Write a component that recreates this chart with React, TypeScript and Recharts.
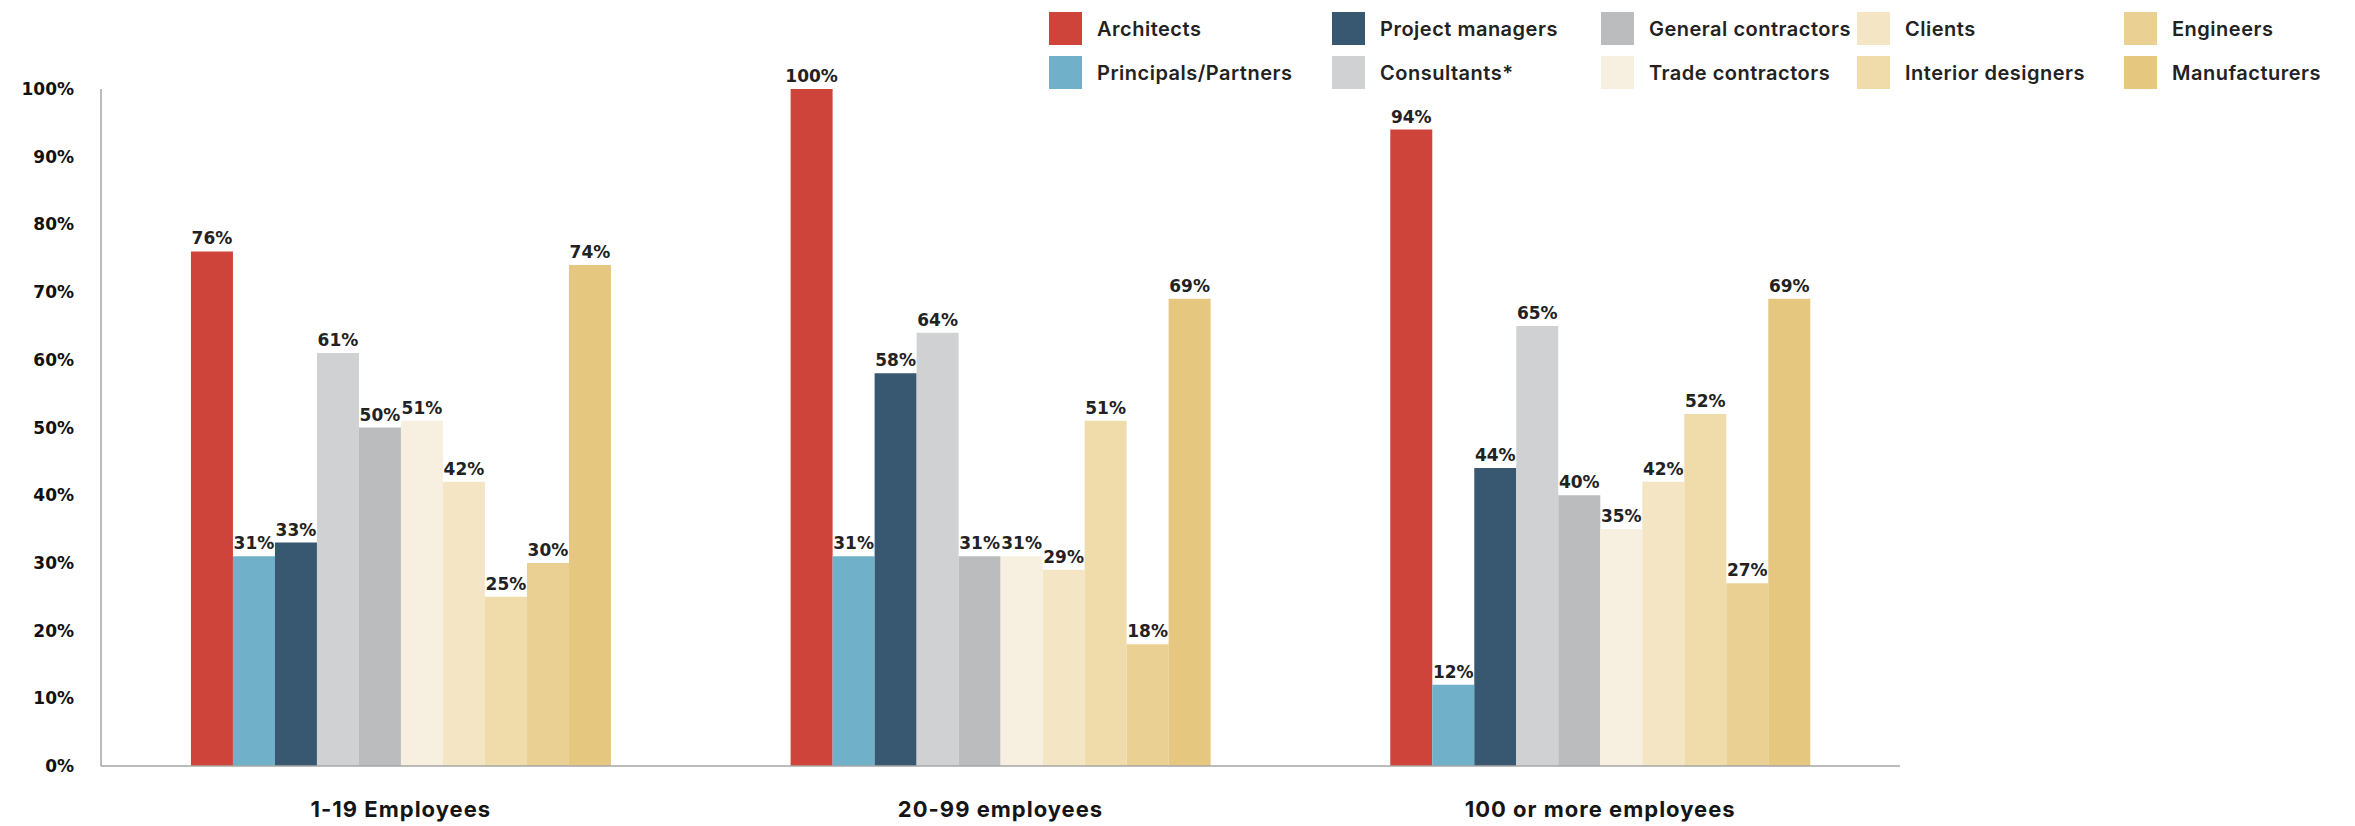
import React from "react";
import { BarChart, Bar, XAxis, YAxis, LabelList } from "recharts";

const categories = ["1-19 Employees", "20-99 employees", "100 or more employees"];
const seriesNames = [
  "Architects",
  "Principals/Partners",
  "Project managers",
  "Consultants*",
  "General contractors",
  "Trade contractors",
  "Clients",
  "Interior designers",
  "Engineers",
  "Manufacturers",
];
const seriesColors = [
  "#CF443A",
  "#71B0C9",
  "#385771",
  "#D0D1D3",
  "#BBBCBE",
  "#F7F0E0",
  "#F4E6C5",
  "#F0DBAB",
  "#EBD093",
  "#E5C77F",
];
const small = [76, 31, 33, 61, 50, 51, 42, 25, 30, 74];
const medium = [100, 31, 58, 64, 31, 31, 29, 51, 18, 69];
const large = [94, 12, 44, 65, 40, 35, 42, 52, 27, 69];
const yTicks = [0, 10, 20, 30, 40, 50, 60, 70, 80, 90, 100];

const groups = [small, medium, large];
const data = categories.map((c, gi) => {
  const row: Record<string, any> = { category: c };
  seriesNames.forEach((s, si) => {
    row[s] = groups[gi][si];
  });
  return row;
});

const legendColWidths = [283, 269, 256, 267, 230];

function Legend() {
  return (
    <div
      style={{
        position: "absolute",
        left: 1049,
        top: 12,
        display: "grid",
        gridTemplateColumns: legendColWidths.map((w) => w + "px").join(" "),
        gridTemplateRows: "33px 33px",
        rowGap: 11,
        gridAutoFlow: "column",
        fontFamily: "Inter, sans-serif",
        fontWeight: 600,
        fontSize: 20,
        letterSpacing: 0.5,
        color: "#222",
      }}
    >
      {seriesNames.map((s, i) => (
        <div key={s} style={{ display: "flex", alignItems: "center" }}>
          <div style={{ width: 33, height: 33, background: seriesColors[i], marginRight: 15, flex: "none" }} />
          <span style={{ whiteSpace: "nowrap" }}>{s}</span>
        </div>
      ))}
    </div>
  );
}

export default function App() {
  return (
    <div style={{ position: "absolute", left: 0, top: 0, width: 2355, height: 826, background: "#fff" }}>
      <BarChart
        width={2355}
        height={826}
        data={data}
        margin={{ top: 89, right: 455, bottom: 0, left: 1 }}
        barCategoryGap="15%"
        barGap={0}
      >
        <XAxis
          dataKey="category"
          axisLine={{ stroke: "#A6A6A6", strokeWidth: 1.5 }}
          tickLine={false}
          tickSize={0}
          tickMargin={35}
          height={60}
          tick={{ fontFamily: "Inter, sans-serif", fontWeight: 700, fontSize: 22, letterSpacing: 1, fill: "#151515" }}
        />
        <YAxis
          domain={[0, 100]}
          ticks={yTicks}
          width={100}
          axisLine={{ stroke: "#A6A6A6", strokeWidth: 1.5 }}
          tickLine={false}
          tickSize={0}
          tickMargin={27}
          tickFormatter={(v: number) => `${v}%`}
          tick={{ fontFamily: "DejaVu Sans, sans-serif", fontWeight: 700, fontSize: 17, fill: "#111" }}
          interval={0}
        />
        {seriesNames.map((s, i) => (
          <Bar key={s} dataKey={s} fill={seriesColors[i]} isAnimationActive={false}>
            <LabelList
              dataKey={s}
              position="top"
              offset={7}
              formatter={(v: any) => `${v}%`}
              style={{ fontFamily: "DejaVu Sans, sans-serif", fontWeight: 700, fontSize: 17, fill: "#222" }}
            />
          </Bar>
        ))}
      </BarChart>
      <Legend />
    </div>
  );
}
